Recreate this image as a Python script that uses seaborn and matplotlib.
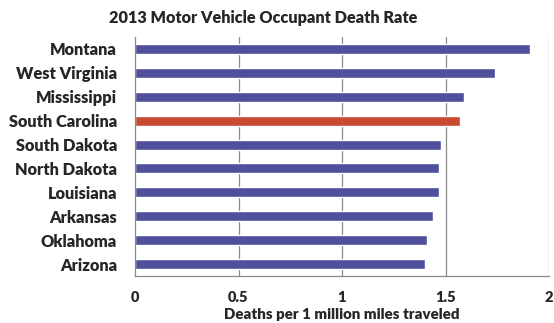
import numpy as np
import pandas as pd
import matplotlib
matplotlib.use("Agg")
import matplotlib.pyplot as plt
import seaborn as sns

states = ["Montana", "West Virginia", "Mississippi", "South Carolina", "South Dakota",
          "North Dakota", "Louisiana", "Arkansas", "Oklahoma", "Arizona"]
rates = [1.91, 1.74, 1.59, 1.57, 1.48, 1.47, 1.47, 1.44, 1.41, 1.40]
highlight = "South Carolina"
x_ticks = [0, 0.5, 1, 1.5, 2]
x_tick_labels = ["0", "0.5", "1", "1.5", "2"]

blue = "#4f4f9b"
red = "#c84b31"
grid_gray = "#8a8a8a"

sns.set_style("white")
plt.rcParams["font.family"] = ["Lato", "DejaVu Sans"]
W = "heavy"

df = pd.DataFrame({"state": states, "rate": rates})
palette = {s: (red if s == highlight else blue) for s in states}

fig = plt.figure(figsize=(5.54, 3.23), dpi=100)
ax = fig.add_axes([135 / 554, 1 - 276 / 323, 414 / 554, 239 / 323])

sns.barplot(data=df, x="rate", y="state", hue="state", palette=palette,
            legend=False, width=0.42, orient="h", ax=ax, saturation=1)

ax.set_xlim(0, 2)
ax.set_ylim(len(states) - 0.5, -0.5)

for xv in x_ticks[1:]:
    ax.axvline(xv, color=grid_gray, lw=0.9, zorder=0)

for side in ["top", "right"]:
    ax.spines[side].set_visible(False)
for side in ["left", "bottom"]:
    ax.spines[side].set_color(grid_gray)
    ax.spines[side].set_linewidth(0.9)

ax.set_xticks(x_ticks)
ax.set_xticklabels(x_tick_labels, fontsize=10.5, fontweight=W)
ax.tick_params(axis="x", direction="out", length=4, color=grid_gray, width=0.9, pad=7)

# category ticks sit at slot boundaries, labels at slot centres
ax.set_yticks(np.arange(len(states) + 1) - 0.5, minor=False)
ax.set_yticklabels([])
ax.tick_params(axis="y", direction="out", length=3, color=grid_gray, width=0.9)
ax.set_yticks(np.arange(len(states)), minor=True)
ax.set_yticklabels(states, minor=True, fontsize=11.8, fontweight=W)
ax.tick_params(axis="y", which="minor", length=0, pad=13)

ax.set_xlabel("Deaths per 1 million miles traveled", fontsize=10.8, fontweight=W, labelpad=3)
ax.set_ylabel("")
fig.text(263 / 554, 1 - 18 / 323, "2013 Motor Vehicle Occupant Death Rate",
         ha="center", va="center", fontsize=11.7, fontweight=W)

fig.savefig("out.png", dpi=100)
